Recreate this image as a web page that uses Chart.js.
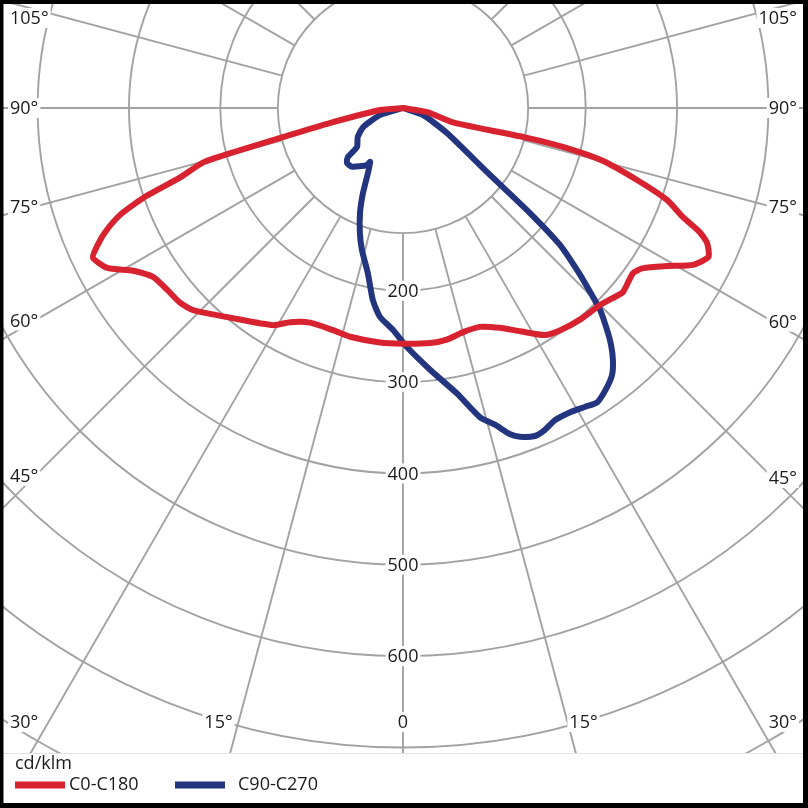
<!DOCTYPE html>
<html>
<head>
<meta charset="utf-8">
<script src="https://cdn.jsdelivr.net/npm/chart.js@4.4.1/dist/chart.umd.min.js"></script>
<style>
html,body{margin:0;padding:0;background:#fff;}
#wrap{width:808px;height:808px;}
</style>
</head>
<body>
<div id="wrap"><canvas id="c" width="808" height="808"></canvas></div>
<script>
// ---- data (gamma angle in degrees from nadir, negative = left half; intensity in cd/klm)
const seriesNames = ['C0-C180', 'C90-C270'];
const unitLabel = 'cd/klm';

const redGamma = [-90,-85.0,-78.4,-76.3,-75.5,-74.8,-72.6,-70.9,-69.3,-67.4,-65.5,-64.2,-61.6,-58.9,-55.9,-52.4,-48.8,-46.1,-39.0,-30.9,-27.8,-23.4,-17.5,-13.0,-5.6,0,6.6,10.7,15.0,19.4,23.8,27.7,32.0,35.3,39.9,45.0,47.9,50.1,54.3,56.3,59.1,61.6,64.0,66.1,67.3,68.7,70.8,72.9,75.2,76.3,76.5,74.0,80.5,90];
const redIntensity = [0,25,82,139,184,226,257,301,331,353,369,377,368,345,330,326,324,319,296,277,265,256,255,257,258,258,259,258,254,254,263,276,293,298,302,305,310,314,310,316,337,361,372,364,352,329,306,268,226,182,141,57,27,0];

const blueGamma = [-90,-73.1,-64.6,-57.2,-49.7,-48.3,-45.5,-40.8,-32.3,-31.4,-28.3,-25.2,-22.3,-19.0,-16.1,-12.0,-8.9,-6.3,-2.6,1.0,5.9,10.7,14.0,16.2,18.2,19.6,21.9,23.8,26.0,28.8,31.3,33.4,35.7,38.1,39.8,41.3,42.6,44.3,45.5,46.9,48.9,50.4,52.6,60.4,70.7,90];
const blueIntensity = [0,26,48,59,66,81,86,85,74,69,81,103,124,145,162,185,213,230,243,262,288,318,349,361,376,382,387,385,380,380,383,386,380,371,359,345,330,309,287,263,228,180,117,55,23,0];

// grid / tick values
const ringValues = [200,300,400,500,600,700,800,900,1000,1100];
const ringLabelValues = [200,300,400,500,600];
const innerCircleValue = 137;
const radialStep = 15;
const sideAngleLabels = [105,90,75,60,45,30];
const bottomAngleLabels = [15,0];

// ---- helpers
function toXY(g, v){
  const a = g*Math.PI/180;
  return {x: v*Math.sin(a), y: -v*Math.cos(a)};
}
const redPoints = redGamma.map((g,i)=>toXY(g, redIntensity[i]));
const bluePoints = blueGamma.map((g,i)=>toXY(g, blueIntensity[i]));

const PANEL_H = 55;      // legend panel height (px)
const FONT = '18px "Open Sans", "Noto Sans", sans-serif';
const GRID = '#a2a2a2';

function labelBox(ctx, text, x, y, align){
  ctx.font = FONT;
  const w = ctx.measureText(text).width;
  let left = x;
  if (align === 'center') left = x - w/2;
  else if (align === 'right') left = x - w;
  ctx.fillStyle = '#fff';
  ctx.fillRect(left-2, y-10, w+4, 20);
  ctx.fillStyle = '#1a1a1a';
  ctx.textAlign = 'left';
  ctx.textBaseline = 'middle';
  ctx.fillText(text, left, y+1);
}

const polarGrid = {
  id: 'polarGrid',
  beforeDraw(chart){
    const ctx = chart.ctx;
    ctx.save();
    ctx.fillStyle = '#fff';
    ctx.fillRect(0,0,chart.width,chart.height);
    ctx.restore();
  },
  beforeDatasetsDraw(chart){
    const ctx = chart.ctx, xs = chart.scales.x, ys = chart.scales.y;
    const cx = xs.getPixelForValue(0), cy = ys.getPixelForValue(0);
    const pr = v => xs.getPixelForValue(v) - cx;
    const W = chart.width, H = chart.height;
    const panelTop = H - PANEL_H;
    ctx.save();
    ctx.beginPath(); ctx.rect(0,0,W,panelTop); ctx.clip();
    ctx.strokeStyle = GRID; ctx.lineWidth = 1.9;
    // rings
    [innerCircleValue, ...ringValues].forEach(v=>{
      ctx.beginPath(); ctx.arc(cx,cy,pr(v),0,Math.PI*2); ctx.stroke();
    });
    // radial lines
    const r0 = pr(innerCircleValue), r1 = pr(ringValues[ringValues.length-1]);
    for (let g=0; g<360; g+=radialStep){
      const a = g*Math.PI/180;
      ctx.beginPath();
      ctx.moveTo(cx + r0*Math.sin(a), cy + r0*Math.cos(a));
      ctx.lineTo(cx + r1*Math.sin(a), cy + r1*Math.cos(a));
      ctx.stroke();
    }
    // ring labels
    ringLabelValues.forEach(v=>labelBox(ctx, String(v), cx, cy + pr(v), 'center'));
    // side angle labels
    const yTop = 18, yBot = panelTop - 31;
    sideAngleLabels.forEach(g=>{
      const a = g*Math.PI/180;
      const dxL = cx - 35, dxR = (W - 35) - cx;
      let yL = cy + dxL/Math.sin(a)*Math.cos(a);
      let yR = cy + dxR/Math.sin(a)*Math.cos(a);
      yL = Math.min(Math.max(yL, yTop), yBot);
      yR = Math.min(Math.max(yR, yTop), yBot);
      labelBox(ctx, g + '°', 10, yL, 'left');
      labelBox(ctx, g + '°', W - 11, yR, 'right');
    });
    // bottom angle labels
    bottomAngleLabels.forEach(g=>{
      const a = g*Math.PI/180;
      const off = (yBot - cy)*Math.tan(a);
      const txt = g === 0 ? '0' : g + '°';
      if (g === 0) { labelBox(ctx, txt, cx, yBot, 'center'); }
      else {
        labelBox(ctx, txt, cx - off - 20, yBot, 'center');
        labelBox(ctx, txt, cx + off + 16, yBot, 'center');
      }
    });
    ctx.restore();
  },
  afterDraw(chart){
    const ctx = chart.ctx, W = chart.width, H = chart.height;
    const panelTop = H - PANEL_H;
    ctx.save();
    ctx.fillStyle = '#fff';
    ctx.fillRect(0, panelTop, W, PANEL_H);
    ctx.strokeStyle = '#e4e4e4'; ctx.lineWidth = 1;
    ctx.beginPath(); ctx.moveTo(0, panelTop+0.5); ctx.lineTo(W, panelTop+0.5); ctx.stroke();
    ctx.font = FONT; ctx.fillStyle = '#1a1a1a';
    ctx.textAlign = 'left'; ctx.textBaseline = 'middle';
    ctx.fillText(unitLabel, 15, panelTop + 11);
    const yItem = panelTop + 32;
    const starts = [15, 175];
    chart.data.datasets.forEach((ds,i)=>{
      const x0 = starts[i];
      ctx.fillStyle = ds.borderColor;
      ctx.fillRect(x0, yItem-3.5, 50, 7);
      ctx.fillStyle = '#1a1a1a';
      ctx.fillText(ds.label, x0 + (i===0 ? 54 : 63), yItem);
    });
    // frame
    ctx.fillStyle = '#000';
    ctx.fillRect(0,0,W,4);
    ctx.fillRect(0,0,3.5,H);
    ctx.fillRect(W-5,0,5,H);
    ctx.fillRect(0,H-5,W,5);
    ctx.restore();
  }
};

// view: center of the diagram at pixel (403,108), 0.9135 px per cd/klm
const K = 0.9135;
const view = {xMin: -403/K, xMax: (808-403)/K, yMin: -(808-108)/K, yMax: 108/K};

new Chart(document.getElementById('c'), {
  type: 'scatter',
  data: {
    datasets: [
      {label: seriesNames[0], data: redPoints, showLine: true, borderColor: '#d8222f', backgroundColor: '#d8222f',
       borderWidth: 6, pointRadius: 0, tension: 0.2, borderJoinStyle: 'round', borderCapStyle: 'round', fill: false},
      {label: seriesNames[1], data: bluePoints, showLine: true, borderColor: '#243580', backgroundColor: '#243580',
       borderWidth: 6, pointRadius: 0, tension: 0.2, borderJoinStyle: 'round', borderCapStyle: 'round', fill: false}
    ]
  },
  options: {
    responsive: false,
    animation: false,
    layout: {padding: 0},
    scales: {
      x: {type: 'linear', min: view.xMin, max: view.xMax, display: false},
      y: {type: 'linear', min: view.yMin, max: view.yMax, display: false}
    },
    plugins: {legend: {display: false}, tooltip: {enabled: false}}
  },
  plugins: [polarGrid]
});
</script>
</body>
</html>
